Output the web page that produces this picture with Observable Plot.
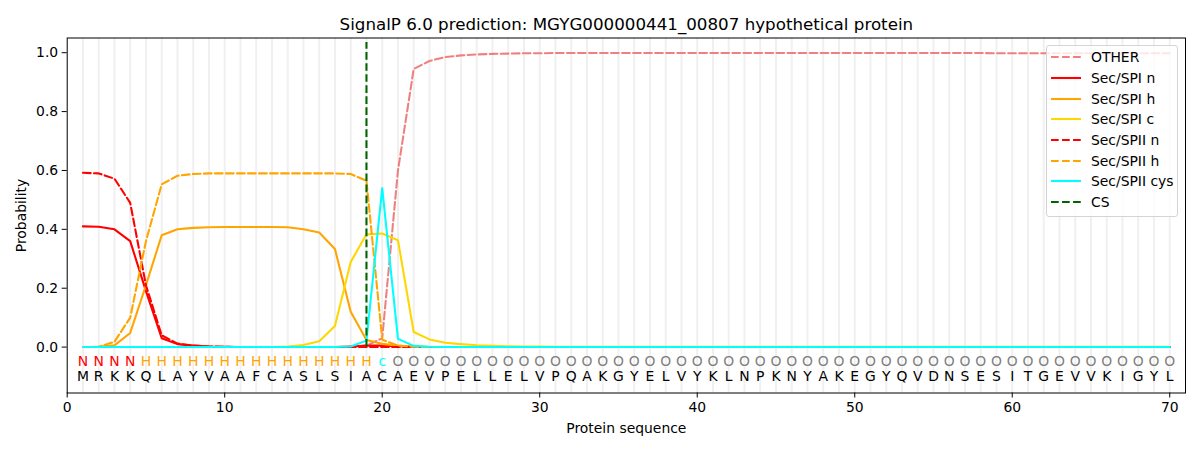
<!DOCTYPE html>
<html>
<head>
<meta charset="utf-8">
<script src="https://cdn.jsdelivr.net/npm/d3@7"></script>
<script src="https://cdn.jsdelivr.net/npm/@observablehq/plot@0.6"></script>
<style>
  body { margin: 0; background: #fff; }
  #wrap { position: relative; width: 1200px; height: 450px; font-family: "DejaVu Sans", sans-serif; }
  #legend { position: absolute; left: 1046px; top: 45px; width: 132px; height: 172px; box-sizing: border-box;
            border: 1px solid #d4d4d4; border-radius: 3px; background: rgba(255,255,255,0.8); padding-top: 1px; }
  .row { display: flex; align-items: center; height: 20.7px; font-size: 13.9px; color: #000; }
  .row svg { margin-left: 4px; margin-right: 10px; }
</style>
</head>
<body>
<div id="wrap"><div id="legend"></div></div>
<script>
const title = "SignalP 6.0 prediction: MGYG000000441_00807 hypothetical protein";
const sequence = "MRKKQLAYVAAFCASLSIACAEVPELLELVPQAKGYELVYKLNPKNYAKEGYQVDNSESITGEVVKIGYL".split("");
const regionLabels = "NNNNHHHHHHHHHHHHHHHcOOOOOOOOOOOOOOOOOOOOOOOOOOOOOOOOOOOOOOOOOOOOOOOOOO".split("");
const cleavageSite = 19;
const xTicks = [0, 10, 20, 30, 40, 50, 60, 70];
const yTicks = [0, 0.2, 0.4, 0.6, 0.8, 1.0];

const other = [0,0,0,0,0,0,0,0,0,0, 0,0,0,0,0,0,0,0,0.005,0.03,
  0.60,0.945,0.972,0.985,0.991,0.994,0.996,0.997,0.998,0.998,
  0.999,0.999,0.999,0.999,0.999,0.999,0.999,0.999,0.999,0.999,
  0.999,0.999,0.999,0.999,0.999,0.999,0.999,0.999,0.999,0.999,
  0.999,0.999,0.999,0.999,0.999,0.999,0.999,0.999,0.998,0.998,
  0.998,0.998,0.998,0.998,0.998,0.998,0.998,0.998,0.998,0.998];
const spiN = [0.41,0.409,0.40,0.36,0.19,0.03,0.01,0.005,0.002,0.001, 0,0,0,0,0,0,0,0.002,0.005,0.005,
  0.003,0.001,0,0,0,0,0,0,0,0, 0,0,0,0,0,0,0,0,0,0, 0,0,0,0,0,0,0,0,0,0, 0,0,0,0,0,0,0,0,0,0, 0,0,0,0,0,0,0,0,0,0];
const spiH = [0,0.001,0.006,0.048,0.21,0.38,0.40,0.405,0.407,0.408, 0.408,0.408,0.408,0.407,0.40,0.389,0.333,0.12,0.024,0.011,
  0.005,0.001,0,0,0,0,0,0,0,0, 0,0,0,0,0,0,0,0,0,0, 0,0,0,0,0,0,0,0,0,0, 0,0,0,0,0,0,0,0,0,0, 0,0,0,0,0,0,0,0,0,0];
const spiC = [0,0,0,0,0,0,0,0,0,0, 0,0,0,0.002,0.007,0.02,0.072,0.289,0.383,0.386,
  0.363,0.051,0.026,0.015,0.01,0.006,0.004,0.003,0.002,0.002, 0.001,0.001,0.001,0.001,0.001,0.001,0.001,0.001,0.001,0.001,
  0.001,0.001,0.001,0.001,0.001,0.001,0.001,0.001,0.001,0.001, 0.001,0.001,0.001,0.001,0.001,0.001,0.001,0.001,0.001,0.001,
  0.001,0.001,0.001,0.001,0.001,0.001,0.001,0.001,0.001,0.001];
const spiiN = [0.592,0.59,0.572,0.49,0.21,0.04,0.012,0.005,0.002,0.001, 0,0,0,0,0,0,0,0,0,0,
  0,0,0,0,0,0,0,0,0,0, 0,0,0,0,0,0,0,0,0,0, 0,0,0,0,0,0,0,0,0,0, 0,0,0,0,0,0,0,0,0,0, 0,0,0,0,0,0,0,0,0,0];
const spiiH = [0,0.001,0.018,0.10,0.36,0.553,0.582,0.588,0.59,0.59, 0.59,0.59,0.59,0.59,0.59,0.59,0.59,0.588,0.565,0.025,
  0.005,0.001,0,0,0,0,0,0,0,0, 0,0,0,0,0,0,0,0,0,0, 0,0,0,0,0,0,0,0,0,0, 0,0,0,0,0,0,0,0,0,0, 0,0,0,0,0,0,0,0,0,0];
const spiiCys = [0,0,0,0,0,0,0,0,0,0, 0,0,0,0,0,0,0,0.002,0.022,0.54,
  0.028,0.004,0.001,0,0,0,0,0,0,0, 0,0,0,0,0,0,0,0,0,0, 0,0,0,0,0,0,0,0,0,0, 0,0,0,0,0,0,0,0,0,0, 0,0,0,0,0,0,0,0,0,0];

const LW = 2.08;
const DASH = "7.7,3.33";
const series = [
  {name: "OTHER", values: other, color: "#F08080", dashed: true},
  {name: "Sec/SPI n", values: spiN, color: "#FF0000", dashed: false},
  {name: "Sec/SPI h", values: spiH, color: "#FFA500", dashed: false},
  {name: "Sec/SPI c", values: spiC, color: "#FFD700", dashed: false},
  {name: "Sec/SPII n", values: spiiN, color: "#FF0000", dashed: true},
  {name: "Sec/SPII h", values: spiiH, color: "#FFA500", dashed: true},
  {name: "Sec/SPII cys", values: spiiCys, color: "#00FFFF", dashed: false}
];
const labelColor = {N: "#FF0000", H: "#FFA500", c: "#00FFFF", O: "#808080"};

const positions = sequence.map((_, i) => i + 1);
const residues = sequence.map((aa, i) => ({pos: i + 1, aa, region: regionLabels[i]}));

const marks = [
  Plot.ruleX(positions, {stroke: "#f0f0f0", strokeWidth: 2}),
  ...series.map(s => Plot.line(s.values.map((v, i) => ({pos: i + 1, p: v})), {
    x: "pos", y: "p", stroke: s.color, strokeWidth: LW,
    strokeDasharray: s.dashed ? DASH : undefined
  })),
  Plot.ruleX([cleavageSite], {x: d => d, y1: 0, y2: 1.035, stroke: "#006400", strokeWidth: LW, strokeDasharray: DASH}),
  Plot.text(residues, {x: "pos", y: -0.05, text: "region", fill: d => labelColor[d.region], fontSize: 13.9, lineAnchor: "middle"}),
  Plot.text(residues, {x: "pos", y: -0.1, text: "aa", fill: "#000", fontSize: 13.9, lineAnchor: "middle"}),
  Plot.frame({stroke: "#000", strokeWidth: 1}),
  Plot.axisX({ticks: xTicks, tickFormat: "d", tickSize: 5, tickPadding: 4, label: "Protein sequence", labelAnchor: "center", labelOffset: 40, labelArrow: "none"}),
  Plot.axisY({ticks: yTicks, tickFormat: ".1f", tickSize: 5, tickPadding: 4, label: "Probability", labelAnchor: "center", labelOffset: 51, labelArrow: "none"}),
  Plot.text([title], {frameAnchor: "top", dy: -13.5, fontSize: 16.7, lineAnchor: "middle", fill: "#000"})
];

const chart = Plot.plot({
  width: 1200, height: 450,
  marginTop: 37.5, marginBottom: 57.5, marginLeft: 66.7, marginRight: 15,
  x: {domain: [0, 71]},
  y: {domain: [-0.156, 1.05]},
  style: {fontFamily: "DejaVu Sans", fontSize: "13.9px", background: "white", color: "#000", overflow: "visible"},
  marks
});
document.getElementById("wrap").prepend(chart);

const legend = document.getElementById("legend");
const legendItems = [...series.map(s => ({name: s.name, color: s.color, dashed: s.dashed})), {name: "CS", color: "#006400", dashed: true}];
for (const it of legendItems) {
  const row = document.createElement("div");
  row.className = "row";
  row.innerHTML = `<svg width="30" height="10"><line x1="0" y1="5" x2="30" y2="5" stroke="${it.color}" stroke-width="${LW}" ${it.dashed ? `stroke-dasharray="${DASH}"` : ""}/></svg><span>${it.name}</span>`;
  legend.appendChild(row);
}
</script>
</body>
</html>
